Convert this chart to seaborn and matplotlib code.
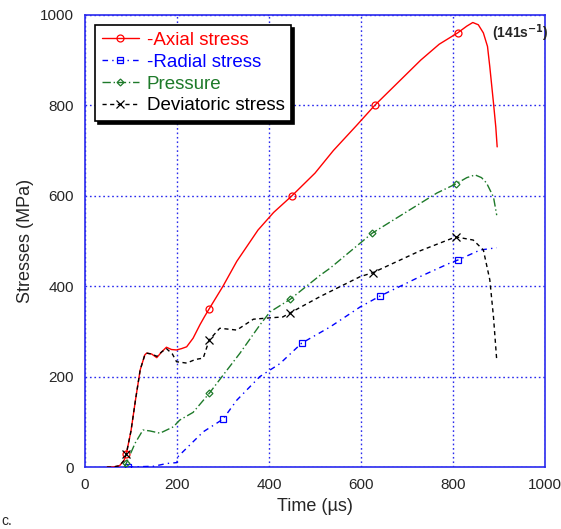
import matplotlib
matplotlib.use("Agg")
import matplotlib.pyplot as plt
import seaborn as sns
import pandas as pd

# data
axial_t = [48, 60, 75, 85, 90, 100, 110, 120, 130, 134, 145, 156, 167, 177, 188, 199, 210, 221, 235, 250,
           260, 270, 285, 300, 330, 376, 410, 450, 500, 540, 590, 630, 680, 730, 770, 810, 830, 843, 855,
           866, 875, 880, 888, 893, 896]
axial_v = [0, 0, 3, 15, 30, 80, 150, 215, 248, 252, 250, 242, 255, 265, 260, 259, 262, 266, 285, 315,
           333, 350, 375, 400, 455, 524, 563, 600, 650, 700, 755, 800, 850, 900, 935, 960, 975, 983, 978,
           960, 930, 885, 805, 752, 708]
axial_marks = [4, 21, 27, 31, 35]

radial_t = [93, 150, 178, 200, 201, 221, 257, 300, 330, 380, 424, 471, 533, 598, 641, 728, 793, 811, 859, 895]
radial_v = [0, 2, 8, 10, 22, 42, 78, 106, 148, 200, 229, 274, 310, 354, 378, 421, 451, 458, 480, 485]
radial_marks = [0, 7, 11, 14, 17]

press_t = [85, 90, 109, 126, 141, 163, 192, 206, 235, 270, 300, 337, 380, 402, 446, 511, 533, 598, 624,
           700, 765, 806, 830, 848, 862, 873, 888, 895]
press_v = [0, 9, 53, 82, 80, 75, 89, 104, 121, 163, 203, 252, 314, 343, 371, 424, 440, 495, 517,
           565, 606, 626, 640, 646, 640, 628, 597, 557]
press_marks = [1, 9, 14, 18, 21]

dev_t = [48, 60, 75, 85, 90, 100, 110, 120, 130, 134, 145, 156, 167, 177, 190, 199, 221, 240, 257, 270,
         293, 330, 366, 402, 430, 446, 511, 598, 626, 728, 806, 844, 866, 880, 888, 895]
dev_v = [0, 0, 3, 15, 30, 80, 150, 215, 248, 252, 250, 245, 255, 262, 250, 233, 230, 238, 241, 281,
         307, 303, 327, 330, 332, 341, 377, 421, 430, 478, 509, 502, 480, 414, 332, 237]
dev_marks = [4, 19, 25, 28, 30]

series = [
    ("-Axial stress", axial_t, axial_v, axial_marks, "#ff0000", "-", "o", 5),
    ("-Radial stress", radial_t, radial_v, radial_marks, "#0000ff", (0, (4, 3, 1, 3)), "s", 5),
    ("Pressure", press_t, press_v, press_marks, "#1e7a2a", (0, (6, 2, 1, 2)), "D", 3.5),
    ("Deviatoric stress", dev_t, dev_v, dev_marks, "#000000", (0, (3, 2.5)), "x", 6),
]

sns.set_style("white")
plt.rcParams["font.family"] = ["Liberation Sans", "DejaVu Sans"]

fig = plt.figure(figsize=(5.61, 5.29), dpi=100)
ax = fig.add_axes([0.1515, 0.117, 0.82, 0.855])

grid_c = "#2a2aee"
handles = []
for name, t, v, marks, col, ls, mk, ms in series:
    df = pd.DataFrame({"t": t, "v": v})
    sns.lineplot(data=df, x="t", y="v", ax=ax, color=col, sort=False, estimator=None,
                 linewidth=1.0, linestyle=ls, marker=mk, markevery=marks, markersize=ms,
                 markerfacecolor="none", markeredgecolor=col, markeredgewidth=0.9, zorder=3)
    handles.append(ax.lines[-1])

ax.set_xlim(0, 1000)
ax.set_ylim(0, 1000)
ax.set_xticks(range(0, 1001, 200))
ax.set_yticks(range(0, 1001, 200))
ax.grid(True, color=grid_c, linestyle=(0, (1.2, 2)), linewidth=1.0)
for s in ax.spines.values():
    s.set_color(grid_c)
    s.set_linewidth(1.2)
ax.tick_params(direction="in", length=5, color=grid_c, labelsize=11, pad=8)
ax.set_xlabel("Time (µs)", fontsize=13, labelpad=4)
ax.set_ylabel("Stresses (MPa)", fontsize=13, labelpad=4)

leg = ax.legend(handles, [s[0] for s in series], loc="upper left", bbox_to_anchor=(0.022, 0.977),
                borderaxespad=0, frameon=True, fancybox=False, shadow={"color": "black", "alpha": 1},
                edgecolor="black", fontsize=13.5, handlelength=2.0, handletextpad=0.4,
                labelspacing=0.25, borderpad=0.35, numpoints=1,
                labelcolor=[s[4] for s in series])
leg.get_frame().set_linewidth(1.2)
leg.set_zorder(5)

ax.text(885, 960, "(141s$^{\\mathbf{-1}}$)", fontsize=10, fontweight="bold", ha="left", va="center")
fig.text(0.002, 0.008, "c.", fontsize=10)

fig.savefig("out.png", dpi=100)
